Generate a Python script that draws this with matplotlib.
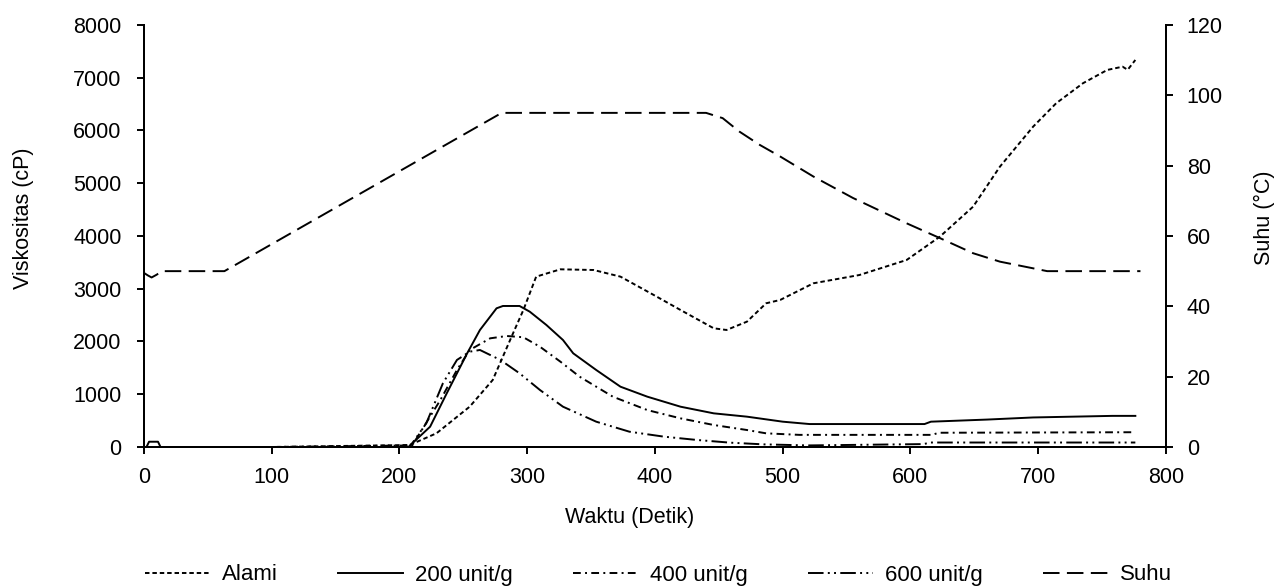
import matplotlib.pyplot as plt

plt.rcParams['font.family'] = ['Liberation Sans', 'DejaVu Sans']

# Data (time in seconds)
t_alami = [0, 100, 208, 229, 255, 273, 289, 297, 307, 326, 352, 373, 399, 420, 446,
           456, 472, 487, 498, 524, 560, 597, 623, 649, 670, 696, 714, 735, 754, 766, 770, 776]
v_alami = [0, 0, 38, 260, 765, 1270, 2160, 2597, 3229, 3368, 3355, 3229, 2882, 2597, 2250,
           2218, 2376, 2724, 2787, 3103, 3260, 3545, 3987, 4555, 5314, 6072, 6515, 6895, 7147, 7209, 7150, 7336]

t_200 = [0, 2, 4, 11, 13, 100, 207, 224, 237, 253, 263, 276, 281, 294, 302, 315, 328, 336,
         354, 373, 394, 420, 446, 472, 500, 521, 611, 616, 660, 696, 758, 776]
v_200 = [0, 0, 100, 100, 0, 0, 0, 385, 1017, 1776, 2218, 2629, 2673, 2673, 2565, 2313, 2028, 1776,
         1460, 1143, 954, 764, 638, 575, 480, 435, 435, 480, 520, 560, 590, 590]

t_400 = [0, 100, 210, 232, 245, 255, 271, 284, 297, 310, 326, 341, 367, 394, 420, 446,
         472, 487, 513, 617, 622, 776]
v_400 = [0, 0, 30, 890, 1460, 1839, 2060, 2104, 2080, 1900, 1617, 1333, 954, 700, 543, 417,
         322, 259, 230, 230, 270, 280]

t_600 = [0, 100, 208, 221, 234, 245, 255, 263, 279, 294, 310, 328, 354, 380, 407, 433,
         459, 485, 520, 610, 616, 776]
v_600 = [0, 0, 0, 449, 1207, 1650, 1807, 1839, 1650, 1397, 1080, 764, 480, 290, 196, 133,
         82, 50, 30, 55, 85, 85]

t_suhu = [0, 3, 6, 10, 14, 63, 280, 440, 453, 466, 482, 498, 524, 555, 597, 623, 649, 670, 707, 780]
suhu = [49.5, 48.8, 48.2, 49, 50, 50, 95, 95, 93.5, 89.7, 85.9, 82.6, 76.9, 70.8, 63.6, 59.4,
        55.1, 52.7, 50, 50]

fig = plt.figure(figsize=(12.84, 5.87), dpi=100)
ax = fig.add_axes([0.1121, 0.2385, 0.796, 0.719])
ax2 = ax.twinx()

lw = 1.4
l1, = ax.plot(t_alami, v_alami, color='black', lw=lw, linestyle=(0, (2.3, 1.5)), label='Alami')
l2, = ax.plot(t_200, v_200, color='black', lw=lw, linestyle='-', label='200 unit/g')
l3, = ax.plot(t_400, v_400, color='black', lw=lw, linestyle=(0, (4, 2.2, 1, 2.2)), label='400 unit/g')
l4, = ax.plot(t_600, v_600, color='black', lw=lw, linestyle=(0, (8, 2.2, 1, 2.2, 1, 2.2)), label='600 unit/g')
l5, = ax2.plot(t_suhu, suhu, color='black', lw=lw, linestyle=(0, (8.5, 3.8)), label='Suhu')

ax.set_xlim(0, 800)
ax.set_ylim(0, 8000)
ax2.set_ylim(0, 120)
ax.set_xticks(range(0, 801, 100))
ax.set_yticks(range(0, 8001, 1000))
ax2.set_yticks(range(0, 121, 20))

for a in (ax, ax2):
    a.spines['top'].set_visible(False)
    for s in a.spines.values():
        s.set_linewidth(1.4)
    a.tick_params(direction='out', length=5, width=1.4, labelsize=15.5)
ax.tick_params(axis='x', pad=9.5)
ax.tick_params(axis='y', pad=11)
ax2.tick_params(axis='y', pad=10)

ax.set_xlabel('Waktu (Detik)', fontsize=15.5)
ax.set_ylabel('Viskositas (cP)', fontsize=15.5)
ax2.set_ylabel('Suhu (°C)', fontsize=15.5)
ax.xaxis.set_label_coords(0.4755, -0.142)
ax.yaxis.set_label_coords(-0.1076, 0.5427)
ax2.yaxis.set_label_coords(1.086, 0.5427)

fig.legend(handles=[l1, l2, l3, l4, l5], loc='center left',
           bbox_to_anchor=(145 / 1284, 1 - 575 / 587), borderaxespad=0, borderpad=0,
           ncol=5, frameon=False, fontsize=16, handlelength=2.93, handletextpad=0.54,
           columnspacing=2.7)

fig.savefig('out.png', dpi=100)
